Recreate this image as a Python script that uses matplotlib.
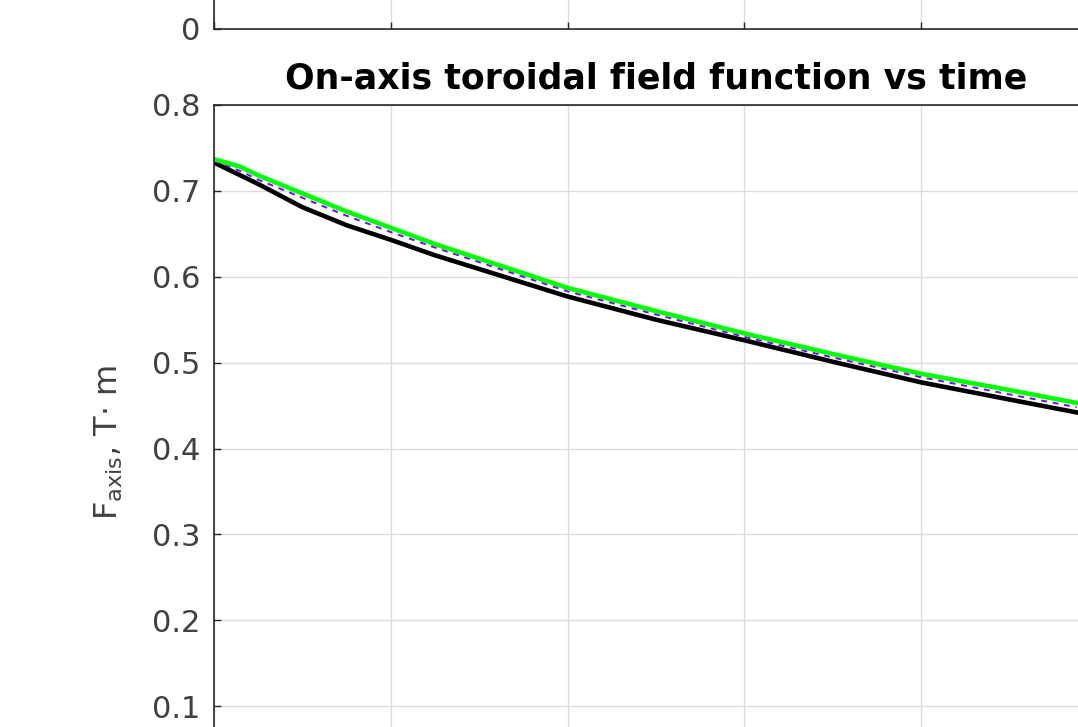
import numpy as np
import matplotlib.pyplot as plt

# time axis (tick units) and on-axis F for the three runs
t = [0, 0.15, 0.25, 0.5, 0.75, 1.0, 1.25, 1.5, 2.0, 2.5, 3.0, 3.5, 4.0, 4.5, 4.88]
f_green = [0.737, 0.728, 0.718, 0.697, 0.676, 0.657, 0.638, 0.621, 0.587, 0.560, 0.534, 0.510, 0.487, 0.468, 0.453]
f_purple = [0.735, 0.723, 0.713, 0.692, 0.671, 0.652, 0.634, 0.617, 0.583, 0.556, 0.530, 0.506, 0.483, 0.463, 0.448]
f_black = [0.733, 0.718, 0.708, 0.681, 0.660, 0.643, 0.625, 0.609, 0.577, 0.550, 0.526, 0.501, 0.477, 0.457, 0.442]

W, H = 1078, 727
fig = plt.figure(figsize=(W / 100, H / 100), dpi=100)
axc = "#262626"

def px_axes(left, top, right, bottom):
    return fig.add_axes([left / W, 1 - bottom / H, (right - left) / W, (bottom - top) / H])

def style(ax):
    ax.tick_params(direction="in", length=5, colors=axc, labelsize=22, width=1, pad=10)
    ax.tick_params(axis="y", labelcolor="#404040")
    for s in ax.spines.values():
        s.set_color(axc)
        s.set_linewidth(1.2)
    ax.grid(True, color="#dcdcdc", linewidth=1)
    ax.set_axisbelow(True)

# upper panel (only its bottom edge is in view)
ax0 = px_axes(214, -400, 1098, 29)
ax0.set_xlim(0, 5)
ax0.set_ylim(0, 1)
ax0.set_xticks(range(6))
ax0.set_yticks([0])
ax0.set_yticklabels(["0"])
ax0.set_xticklabels([])
style(ax0)
ax0.grid(axis="y", visible=False)

# lower panel
ax = px_axes(214, 105, 1098, 792)
ax.plot(t, f_black, color="black", linewidth=3.3)
ax.plot(t, f_purple, color="#7f00ff", linewidth=1.4, linestyle=(0, (3, 3)))
ax.plot(t, f_green, color="#00ff00", linewidth=3.3)
ax.set_xlim(0, 5)
ax.set_ylim(0, 0.8)
ax.set_xticks(range(6))
ax.set_xticklabels([])
ax.set_yticks(np.arange(0, 0.81, 0.1))
ax.set_yticklabels(["0", "0.1", "0.2", "0.3", "0.4", "0.5", "0.6", "0.7", "0.8"])
style(ax)
ax.set_title("On-axis toroidal field function vs time", fontsize=25, fontweight="bold", pad=12)

# y label, placed in pixels left of the tick labels
fig.text(118 / W, 1 - 442 / H, "F$_{\\mathregular{axis}}$, T\u00b7 m", rotation=90,
         rotation_mode="anchor", ha="center", va="baseline", fontsize=23, color="#404040")

fig.savefig("out.png", dpi=100)
